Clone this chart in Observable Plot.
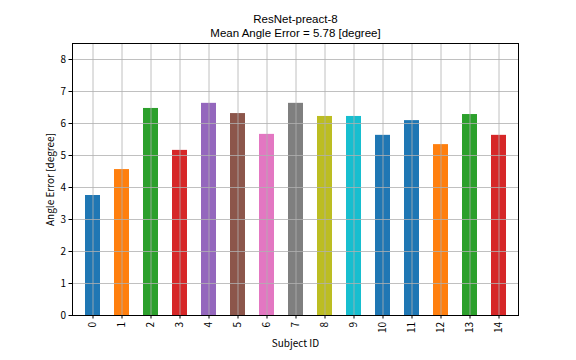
<!DOCTYPE html>
<html>
<head>
<meta charset="utf-8">
<script src="https://cdn.jsdelivr.net/npm/d3@7"></script>
<script src="https://cdn.jsdelivr.net/npm/@observablehq/plot@0.6"></script>
<style>
  html, body { margin: 0; padding: 0; background: #fff; }
</style>
</head>
<body>
<div id="chart"></div>
<script>
const subjects = ["0","1","2","3","4","5","6","7","8","9","10","11","12","13","14"];
const errors = [3.75, 4.56, 6.47, 5.16, 6.63, 6.31, 5.66, 6.63, 6.22, 6.22, 5.63, 6.09, 5.34, 6.28, 5.63];
const barColors = ["#1f77b4","#ff7f0e","#2ca02c","#d62728","#9467bd","#8c564b","#e377c2","#7f7f7f","#bcbd22","#17becf",
                   "#1f77b4","#1f77b4","#ff7f0e","#2ca02c","#d62728"];
const yTicks = [0,1,2,3,4,5,6,7,8];
const titleLines = ["ResNet-preact-8", "Mean Angle Error = 5.78 [degree]"];

const data = subjects.map((s, i) => ({id: s, value: errors[i], color: barColors[i]}));
const font = "'Noto Sans CJK JP', 'DejaVu Sans', sans-serif";
const titleFont = "'Liberation Sans', Arial, sans-serif";

const chart = Plot.plot({
  width: 576,
  height: 360,
  marginLeft: 72,
  marginRight: 58,
  marginTop: 43,
  marginBottom: 45,
  style: {fontFamily: font, fontSize: "10px", color: "#000", background: "#fff"},
  x: {type: "band", domain: subjects, paddingInner: 0.5, paddingOuter: 0.25},
  y: {domain: [0, 8.5]},
  marks: [
    Plot.barY(data, {x: "id", y: "value", fill: "color"}),
    Plot.gridX(subjects, {stroke: "#b0b0b0", strokeOpacity: 1, strokeWidth: 0.8}),
    Plot.gridY(yTicks, {stroke: "#b0b0b0", strokeOpacity: 1, strokeWidth: 0.8}),
    Plot.frame({stroke: "#000", strokeWidth: 1}),
    Plot.axisY(yTicks, {tickSize: 3.5, tickPadding: 3, fontSize: 10, label: "Angle Error [degree]", labelAnchor: "center", labelArrow: "none", labelOffset: 26}),
    Plot.axisX(subjects, {tickSize: 3.5, tickPadding: 3, tickRotate: -90, fontSize: 10, label: "Subject ID", labelAnchor: "center", labelArrow: "none", labelOffset: 31}),
    Plot.text([titleLines[0]], {frameAnchor: "top", lineAnchor: "bottom", dy: -20.2, fontSize: 11.5, fontFamily: titleFont, text: d => d}),
    Plot.text([titleLines[1]], {frameAnchor: "top", lineAnchor: "bottom", dy: -6.7, fontSize: 11.5, fontFamily: titleFont, text: d => d})
  ]
});
document.getElementById("chart").appendChild(chart);
</script>
</body>
</html>
